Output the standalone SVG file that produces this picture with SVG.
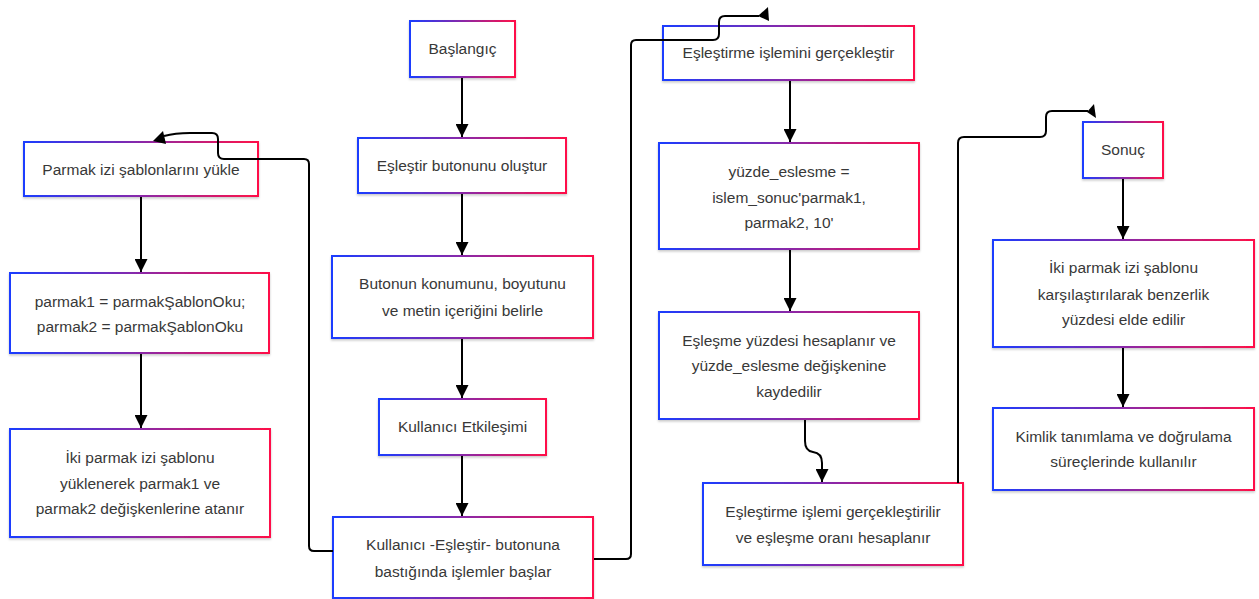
<svg xmlns="http://www.w3.org/2000/svg" width="1259" height="599" viewBox="0 0 1259 599">
  <defs>
    <linearGradient id="edge" x1="0" y1="0" x2="1" y2="0">
      <stop offset="0" stop-color="#1a3cff"/>
      <stop offset="0.5" stop-color="#8a28a8"/>
      <stop offset="1" stop-color="#ff1048"/>
    </linearGradient>
    <filter id="shadow" x="-5%" y="-10%" width="110%" height="130%">
      <feDropShadow dx="0" dy="1.5" stdDeviation="1.2" flood-color="#000" flood-opacity="0.22"/>
    </filter>
    <marker id="arrow" markerWidth="13" markerHeight="13" refX="13" refY="6.5" orient="auto" markerUnits="userSpaceOnUse">
      <path d="M0,0 L13,6.5 L0,13 z" fill="#000"/>
    </marker>
    <style>
      .box { fill: #ffffff; stroke: url(#edge); stroke-width: 2; filter: url(#shadow); }
      .lbl { font-family: "Liberation Sans", Arial, Helvetica, sans-serif; font-size: 15.5px; fill: #383838; text-anchor: middle; }
      .wire { fill: none; stroke: #000; stroke-width: 2; }
      .tip { fill: #000; }
    </style>
  </defs>

  <rect width="1259" height="599" fill="#ffffff"/>

  <!-- column 1 -->
  <g id="n-baslangic">
    <rect class="box" x="410" y="21" width="105" height="56"/>
    <text class="lbl" x="462.5" y="54">Başlangıç</text>
  </g>
  <g id="n-buton-olustur">
    <rect class="box" x="358" y="138" width="208" height="55"/>
    <text class="lbl" x="462" y="171">Eşleştir butonunu oluştur</text>
  </g>
  <g id="n-buton-konum">
    <rect class="box" x="332" y="256" width="261" height="82"/>
    <text class="lbl" x="462.5" y="289">Butonun konumunu, boyutunu</text>
    <text class="lbl" x="462.5" y="316">ve metin içeriğini belirle</text>
  </g>
  <g id="n-etkilesim">
    <rect class="box" x="379" y="399" width="167" height="56"/>
    <text class="lbl" x="462.5" y="432">Kullanıcı Etkileşimi</text>
  </g>
  <g id="n-basla">
    <rect class="box" x="333" y="517" width="260" height="81"/>
    <text class="lbl" x="463" y="550">Kullanıcı -Eşleştir- butonuna</text>
    <text class="lbl" x="463" y="577">bastığında işlemler başlar</text>
  </g>

  <!-- column 0 -->
  <g id="n-sablon-yukle">
    <rect class="box" x="24" y="142" width="234" height="54"/>
    <text class="lbl" x="141" y="175">Parmak izi şablonlarını yükle</text>
  </g>
  <g id="n-parmak-oku">
    <rect class="box" x="10" y="273" width="259" height="80"/>
    <text class="lbl" x="140" y="307">parmak1 = parmakŞablonOku;</text>
    <text class="lbl" x="140" y="332">parmak2 = parmakŞablonOku</text>
  </g>
  <g id="n-atama">
    <rect class="box" x="10" y="429" width="260" height="108"/>
    <text class="lbl" x="140" y="463">İki parmak izi şablonu</text>
    <text class="lbl" x="140" y="489">yüklenerek parmak1 ve</text>
    <text class="lbl" x="140" y="514">parmak2 değişkenlerine atanır</text>
  </g>

  <!-- column 2 -->
  <g id="n-eslestirme">
    <rect class="box" x="663" y="26" width="251" height="54"/>
    <text class="lbl" x="788.5" y="58">Eşleştirme işlemini gerçekleştir</text>
  </g>
  <g id="n-yuzde">
    <rect class="box" x="659" y="143" width="260" height="106"/>
    <text class="lbl" x="789" y="177">yüzde_eslesme =</text>
    <text class="lbl" x="789" y="203">islem_sonuc'parmak1,</text>
    <text class="lbl" x="789" y="228">parmak2, 10'</text>
  </g>
  <g id="n-hesap">
    <rect class="box" x="659" y="312" width="260" height="107"/>
    <text class="lbl" x="789" y="346">Eşleşme yüzdesi hesaplanır ve</text>
    <text class="lbl" x="789" y="371">yüzde_eslesme değişkenine</text>
    <text class="lbl" x="789" y="397">kaydedilir</text>
  </g>
  <g id="n-gerceklesir">
    <rect class="box" x="703" y="483" width="260" height="82"/>
    <text class="lbl" x="833" y="517">Eşleştirme işlemi gerçekleştirilir</text>
    <text class="lbl" x="833" y="543">ve eşleşme oranı hesaplanır</text>
  </g>

  <!-- column 3 -->
  <g id="n-sonuc">
    <rect class="box" x="1083" y="122" width="80" height="56"/>
    <text class="lbl" x="1123" y="155">Sonuç</text>
  </g>
  <g id="n-karsilastir">
    <rect class="box" x="993" y="240" width="261" height="107"/>
    <text class="lbl" x="1123.5" y="273">İki parmak izi şablonu</text>
    <text class="lbl" x="1123.5" y="300">karşılaştırılarak benzerlik</text>
    <text class="lbl" x="1123.5" y="325">yüzdesi elde edilir</text>
  </g>
  <g id="n-kimlik">
    <rect class="box" x="993" y="408" width="261" height="82"/>
    <text class="lbl" x="1123.5" y="442">Kimlik tanımlama ve doğrulama</text>
    <text class="lbl" x="1123.5" y="467">süreçlerinde kullanılır</text>
  </g>

  <!-- connectors, drawn over the boxes they cross -->
  <g id="connectors">
    <path class="wire" d="M462,78 V137" marker-end="url(#arrow)"/>
    <path class="wire" d="M462,194 V255" marker-end="url(#arrow)"/>
    <path class="wire" d="M462,339 V398" marker-end="url(#arrow)"/>
    <path class="wire" d="M462,456 V516" marker-end="url(#arrow)"/>
    <path class="wire" d="M141,197 V272" marker-end="url(#arrow)"/>
    <path class="wire" d="M141,354 V428" marker-end="url(#arrow)"/>
    <path class="wire" d="M790,81 V142" marker-end="url(#arrow)"/>
    <path class="wire" d="M790,250 V311" marker-end="url(#arrow)"/>
    <path class="wire" d="M1123,179 V239" marker-end="url(#arrow)"/>
    <path class="wire" d="M1123,348 V407" marker-end="url(#arrow)"/>
    <path class="wire" d="M805,420 V441 Q805,451 813,452 Q822,453 822,463 V482" marker-end="url(#arrow)"/>

    <!-- loop back to the template loading step -->
    <path class="wire" d="M333,551 H314 Q309,551 309,546 V164 Q309,159 304,159 H224 Q218,159 218,153 V139 Q218,133 212,133 H190 Q175,133 164,136"/>
    <polygon class="tip" points="153,141 163,131 166,144"/>

    <!-- jump to the matching step -->
    <path class="wire" d="M594,559 H626 Q631,559 631,554 V45 Q631,40 636,40 H713 Q719,40 719,34 V22 Q719,16 725,16 H759"/>
    <polygon class="tip" points="758,16 768,7 769,21"/>

    <!-- jump to the result -->
    <path class="wire" d="M958,483 V143 Q958,137 964,137 H1040 Q1046,137 1046,131 V117 Q1046,111 1052,111 H1088"/>
    <polygon class="tip" points="1087,112 1094,104 1096,118"/>
  </g>
</svg>
